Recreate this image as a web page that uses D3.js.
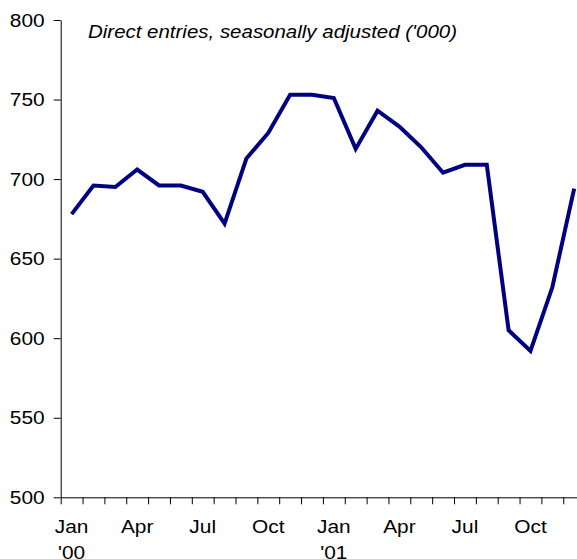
<!DOCTYPE html>
<html>
<head>
<meta charset="utf-8">
<script src="https://cdn.jsdelivr.net/npm/d3@7"></script>
<style>
  html, body { margin: 0; padding: 0; background: #fff; }
  svg { display: block; }
  text { font-family: "Liberation Sans", Arial, sans-serif; fill: #000; }
</style>
</head>
<body>
<svg id="chart" width="577" height="559"></svg>
<script>
// ---- Data ----
const months = ["Jan","Feb","Mar","Apr","May","Jun","Jul","Aug","Sep","Oct","Nov","Dec",
                "Jan","Feb","Mar","Apr","May","Jun","Jul","Aug","Sep","Oct","Nov","Dec"];
const years = ["'00","","","","","","","","","","","","'01","","","","","","","","","","",""];
const directEntries = [678, 696, 695, 706, 696, 696, 692, 672, 713, 729, 753, 753,
                       751, 719, 743, 733, 720, 704, 709, 709, 605, 592, 632, 694];
const yTickValues = [500, 550, 600, 650, 700, 750, 800];
const labelledMonths = [0, 3, 6, 9, 12, 15, 18, 21];
const titleText = "Direct entries, seasonally adjusted ('000)";

// ---- Layout ----
const svg = d3.select("#chart");
const mLeft = 60.7, mTop = 20, mBottom = 497.3;
const step = 21.85;
const stretch = 1.13;

const x = d3.scaleLinear().domain([0, months.length]).range([mLeft, mLeft + step * months.length]);
const y = d3.scaleLinear().domain([500, 800]).range([mBottom, mTop]);

// Y axis
const yAxis = d3.axisLeft(y).tickValues(yTickValues).tickSize(7).tickSizeOuter(0).tickFormat("");
const gy = svg.append("g").attr("transform", `translate(${mLeft},0)`).call(yAxis);
gy.select(".domain").attr("stroke", "#000").attr("stroke-width", 1);
gy.selectAll(".tick line").attr("stroke", "#000").attr("stroke-width", 1);

svg.append("g").selectAll("text").data(yTickValues).join("text")
  .attr("transform", d => `translate(${mLeft - 16},${y(d)}) scale(${stretch},1)`)
  .attr("text-anchor", "end")
  .attr("dy", "0.36em")
  .style("font-size", "18.5px")
  .text(d => d);

// X axis
const xAxis = d3.axisBottom(x).tickValues(d3.range(0, months.length + 1)).tickSize(7).tickSizeOuter(0).tickFormat("");
const gx = svg.append("g").attr("transform", `translate(0,${mBottom})`).call(xAxis);
gx.select(".domain").attr("stroke", "#000").attr("stroke-width", 1);
gx.selectAll(".tick line").attr("stroke", "#000").attr("stroke-width", 1);

const xl = svg.append("g");
xl.selectAll("text.m").data(labelledMonths).join("text")
  .attr("class", "m")
  .attr("transform", i => `translate(${x(i + 0.5)},533.3) scale(${stretch},1)`)
  .attr("text-anchor", "middle")
  .style("font-size", "18.5px")
  .text(i => months[i]);
xl.selectAll("text.yr").data(labelledMonths.filter(i => years[i] !== "")).join("text")
  .attr("class", "yr")
  .attr("transform", i => `translate(${x(i + 0.5)},559) scale(${stretch},1)`)
  .attr("text-anchor", "middle")
  .style("font-size", "18.5px")
  .text(i => years[i]);

// Line
const line = d3.line()
  .x((d, i) => x(i + 0.5))
  .y(d => y(d));
svg.append("path")
  .datum(directEntries)
  .attr("d", line)
  .attr("fill", "none")
  .attr("stroke", "#000080")
  .attr("stroke-width", 4)
  .attr("stroke-linejoin", "miter")
  .attr("stroke-linecap", "butt");

// Title
svg.append("text")
  .attr("transform", `translate(88,37.7) scale(1.15,1)`)
  .style("font-size", "17.8px")
  .style("font-style", "italic")
  .text(titleText);
</script>
</body>
</html>
